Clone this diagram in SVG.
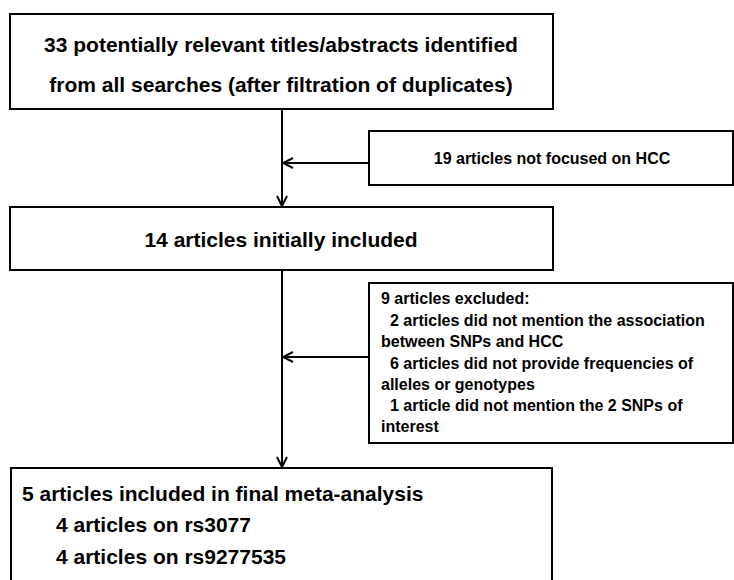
<svg xmlns="http://www.w3.org/2000/svg" width="734" height="580" viewBox="0 0 734 580">
<style>
.box{fill:#fff;stroke:#000;stroke-width:2}
.t{font-family:"Liberation Sans",Arial,sans-serif;font-weight:bold;fill:#000}
.big{font-size:21px}
.sm{font-size:16px}
.c{stroke:#000;stroke-width:2;fill:none}
</style>
<defs>
<marker id="ah" viewBox="0 0 12 12" refX="11" refY="6" markerWidth="12" markerHeight="12" markerUnits="userSpaceOnUse" orient="auto">
<path d="M1,1 L11,6 L1,11" fill="none" stroke="#000" stroke-width="2"/>
</marker>
</defs>
<g id="connectors">
<line class="c" x1="282" y1="109" x2="282" y2="206" marker-end="url(#ah)"/>
<line class="c" x1="369" y1="163" x2="283" y2="163" marker-end="url(#ah)"/>
<line class="c" x1="282" y1="271" x2="282" y2="467" marker-end="url(#ah)"/>
<line class="c" x1="369" y1="357" x2="283" y2="357" marker-end="url(#ah)"/>
</g>
<g id="n1">
<rect class="box" x="10" y="14" width="543" height="95"/>
<text class="t big" x="281" y="52" text-anchor="middle">33 potentially relevant titles/abstracts identified</text>
<text class="t big" x="281" y="92" text-anchor="middle">from all searches (after filtration of duplicates)</text>
</g>
<g id="n2">
<rect class="box" x="369" y="131" width="364" height="54"/>
<text class="t sm" x="552" y="164" text-anchor="middle">19 articles not focused on HCC</text>
</g>
<g id="n3">
<rect class="box" x="10" y="207" width="543" height="63"/>
<text class="t big" x="281" y="247" text-anchor="middle">14 articles initially included</text>
</g>
<g id="n4">
<rect class="box" x="369" y="283" width="364" height="160"/>
<text class="t sm" x="381" y="304">9 articles excluded:</text>
<text class="t sm" x="390" y="326">2 articles did not mention the association</text>
<text class="t sm" x="381" y="347">between SNPs and HCC</text>
<text class="t sm" x="390" y="369">6 articles did not provide frequencies of</text>
<text class="t sm" x="381" y="390">alleles or genotypes</text>
<text class="t sm" x="390" y="411">1 article did not mention the 2 SNPs of</text>
<text class="t sm" x="381" y="432">interest</text>
</g>
<g id="n5">
<rect class="box" x="11" y="468" width="541" height="130"/>
<text class="t big" x="22" y="501">5 articles included in final meta-analysis</text>
<text class="t big" x="56" y="532">4 articles on rs3077</text>
<text class="t big" x="56" y="564">4 articles on rs9277535</text>
</g>
</svg>
